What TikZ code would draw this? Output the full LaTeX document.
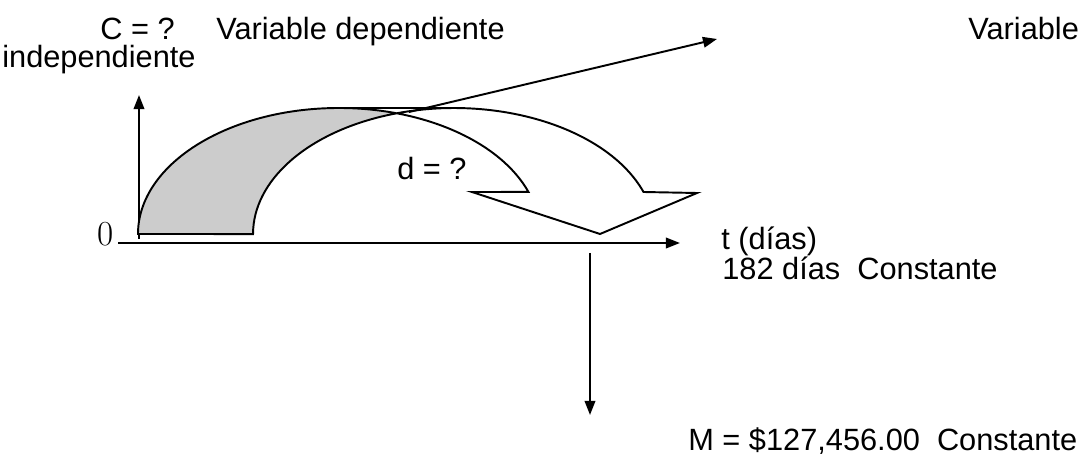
\documentclass[tikz,border=0pt]{standalone}
\usepackage{fontspec}
\newfontfamily\arialfont{Liberation Sans}
\usetikzlibrary{arrows.meta}
\tikzset{
  lbl/.style={font=\arialfont\fontsize{17.5}{20}\selectfont, inner sep=0pt, anchor=base west},
  ax/.style={line width=1.1pt, -{Triangle[length=8pt,width=6pt]}},
  band/.style={line width=1.1pt, line join=miter},
}
\begin{document}
\begin{tikzpicture}[x=0.02cm,y=0.02cm]
\useasboundingbox (0,0) rectangle (1081,456);
% axes
\coordinate (yfoot) at (139,217);
\coordinate (ytop) at (139,361);
\coordinate (xfoot) at (118,213);
\coordinate (xtop) at (680,213);
\draw[ax] (yfoot) -- (ytop);
\draw[ax] (xfoot) -- (xtop);
\node[font=\rmfamily\fontsize{20}{22}\selectfont, inner sep=0pt, anchor=base] (zero) at (106,210) {0};
% curved arrow, shaded back part first
\fill[gray!40] (138,222) arc[start angle=180,end angle=73.4,x radius=201,y radius=126]
  arc[start angle=106.6,end angle=180,x radius=201,y radius=126] -- cycle;
\draw[band] (138,222) arc[start angle=180,end angle=19.5,x radius=201,y radius=126]
  -- (472,264) -- (600,222) -- (697,263) -- (643.5,264)
  arc[start angle=19.5,end angle=180,x radius=201,y radius=126] -- cycle;
\draw[band] (339,348) -- (454,348);
% pointers
\coordinate (cross) at (409,344);
\coordinate (vtip) at (717,417);
\draw[ax] (cross) -- (vtip);
\coordinate (mtop) at (590,203);
\coordinate (mtip) at (590,41);
\draw[ax] (mtop) -- (mtip);
% labels
\node[lbl] (cq) at (100,416) {C = ?};
\node[lbl] (vdep) at (216,416) {Variable dependiente};
\node[lbl] (vind) at (968,416) {Variable};
\node[lbl] (indep) at (2,388) {independiente};
\node[lbl] (dq) at (397,276) {d = ?};
\node[lbl] (tdias) at (721,206) {t (días)};
\node[lbl] (dias) at (722,176) {182 días\ \ Constante};
\node[lbl] (mval) at (688,6) {M = \$127,456.00\ \ Constante};
\end{tikzpicture}
\end{document}
